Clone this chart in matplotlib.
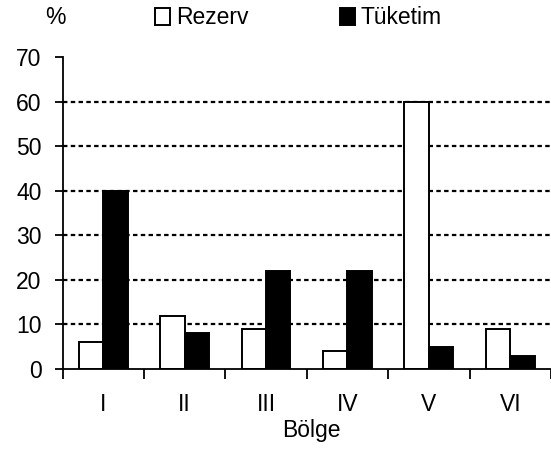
import numpy as np
from matplotlib import pyplot as plt

plt.rcParams['font.family'] = ['Liberation Sans', 'DejaVu Sans']

bolge = ['I', 'II', 'III', 'IV', 'V', 'VI']
rezerv = [6, 12, 9, 4, 60, 9]
tuketim = [40, 8, 22, 22, 5, 3]
yticks = [0, 10, 20, 30, 40, 50, 60, 70]

fs = 16.5

fig = plt.figure(figsize=(5.51, 4.49), dpi=100)
ax = fig.add_axes([62.5 / 551, 1 - 369 / 449, 1 - 62.5 / 551, (369 - 57) / 449])

x = np.arange(len(bolge))
w = 0.3
for y in yticks[1:-1]:
    ax.axhline(y, color='black', lw=1.6, ls=(0, (2, 1.5)), zorder=1)

b1 = ax.bar(x - w / 2, rezerv, w, color='white', edgecolor='black', lw=1.4, zorder=2, label='Rezerv')
b2 = ax.bar(x + w / 2, tuketim, w, color='black', edgecolor='black', lw=1.4, zorder=2, label='Tüketim')

ax.set_xlim(-0.5, 5.5)
ax.set_ylim(0, 70)
ax.set_yticks(yticks)
ax.set_xticks(np.arange(len(bolge) + 1) - 0.5)
ax.set_xticklabels([])
ax.set_xticks(x, minor=True)
ax.set_xticklabels(bolge, minor=True)
ax.tick_params(axis='x', which='minor', length=0, pad=17, labelsize=fs)
ax.tick_params(axis='x', which='major', length=7, width=1.3, direction='out')
ax.tick_params(axis='y', length=6, width=1.3, direction='out', pad=9, labelsize=fs)

for s in ['top', 'right']:
    ax.spines[s].set_visible(False)
ax.spines['left'].set_linewidth(1.3)
ax.spines['bottom'].set_linewidth(1.3)

ax.set_xlabel('Bölge', fontsize=fs)
ax.xaxis.set_label_coords(0.51, -0.197)
ax.xaxis.label.set_va('center')

fig.text(55 / 551, 1 - 17 / 449, '%', fontsize=fs, ha='center', va='center')
fig.legend(handles=[b1, b2], loc='center left', bbox_to_anchor=(155 / 551, 1 - 18 / 449),
           ncol=2, frameon=False, fontsize=fs, handlelength=0.65, handleheight=0.7,
           handletextpad=0.25, columnspacing=4.0, borderpad=0, borderaxespad=0)

fig.savefig('out.png', dpi=100)
